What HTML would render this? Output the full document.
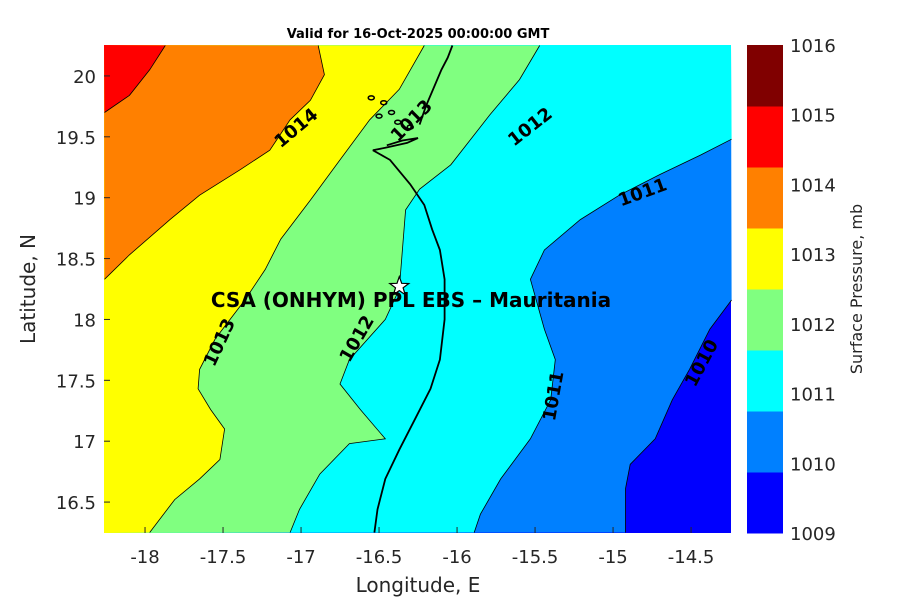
<!DOCTYPE html>
<html><head><meta charset="utf-8"><style>
body{margin:0;background:#fff;}
svg text{font-family:"DejaVu Sans","Liberation Sans",sans-serif;}
</style></head><body>
<svg id="c" width="900" height="600" viewBox="0 0 900 600"></svg>
<script>
const lonTicks=[-18,-17.5,-17,-16.5,-16,-15.5,-15,-14.5];
const latTicks=[16.5,17,17.5,18,18.5,19,19.5,20];
const cbLevels=[1009,1010,1011,1012,1013,1014,1015,1016];
const cbColors=["#0000ff","#0080ff","#00ffff","#80ff80","#ffff00","#ff8000","#ff0000","#800000"];
const line1015=[[-17.87,20.25],[-17.97,20.05],[-18.10,19.84],[-18.26,19.70]];
const line1014=[[-16.89,20.25],[-16.85,20.01],[-16.94,19.80],[-17.07,19.64],[-17.20,19.39],[-17.39,19.23],[-17.65,19.02],[-17.84,18.82],[-18.10,18.53],[-18.26,18.33]];
const line1013=[[-16.21,20.25],[-16.37,19.89],[-16.56,19.64],[-16.75,19.31],[-16.94,18.98],[-17.13,18.66],[-17.23,18.41],[-17.36,18.16],[-17.55,17.84],[-17.65,17.59],[-17.66,17.43],[-17.58,17.26],[-17.49,17.10],[-17.52,16.85],[-17.65,16.69],[-17.81,16.52],[-17.97,16.25]];
const line1012=[[-15.47,20.25],[-15.60,19.97],[-15.79,19.68],[-16.04,19.27],[-16.24,19.07],[-16.33,18.90],[-16.35,18.57],[-16.37,18.25],[-16.46,18.00],[-16.69,17.67],[-16.75,17.47],[-16.62,17.26],[-16.46,17.02],[-16.69,16.98],[-16.88,16.73],[-17.01,16.44],[-17.07,16.25]];
const line1011=[[-14.24,19.48],[-14.44,19.35],[-14.70,19.19],[-14.96,19.02],[-15.21,18.82],[-15.44,18.57],[-15.53,18.33],[-15.44,17.92],[-15.37,17.67],[-15.40,17.34],[-15.53,17.02],[-15.72,16.69],[-15.85,16.40],[-15.89,16.25]];
const line1010=[[-14.24,18.16],[-14.38,17.92],[-14.51,17.59],[-14.62,17.34],[-14.73,17.02],[-14.89,16.81],[-14.92,16.61],[-14.92,16.25]];
const coast=[[-16.54,19.39],[-16.43,19.31],[-16.30,19.11],[-16.21,18.94],[-16.16,18.74],[-16.11,18.57],[-16.08,18.33],[-16.08,18.00],[-16.11,17.67],[-16.17,17.43],[-16.27,17.18],[-16.37,16.93],[-16.46,16.69],[-16.51,16.44],[-16.53,16.25]];
const coastNorth=[[-16.54,19.39],[-16.46,19.41],[-16.32,19.45],[-16.25,19.49],[-16.35,19.47],[-16.45,19.43]];
const coastTop=[[-16.24,19.60],[-16.20,19.75],[-16.15,19.90],[-16.10,20.05],[-16.06,20.15],[-16.03,20.25]];
const station=[-16.37,18.27];
const clabels=[["1014",-17.03,19.57,-40],["1013",-17.52,17.81,-65],["1012",-16.64,17.84,-60],["1012",-15.53,19.58,-38],["1011",-14.81,19.04,-20],["1011",-15.38,17.37,-80],["1010",-14.43,17.64,-62],["1013",-16.29,19.63,-45]];
const X0=104,X1=731,Y0=45,Y1=533;
const LON0=-18.263,LON1=-14.244,LAT0=16.246,LAT1=20.254;
const sx=v=>X0+(v-LON0)/(LON1-LON0)*(X1-X0);
const sy=v=>Y1-(v-LAT0)/(LAT1-LAT0)*(Y1-Y0);
const svg=document.getElementById('c');
const NS="http://www.w3.org/2000/svg";
function mk(t,a,txt){const e=document.createElementNS(NS,t);for(const k in a)e.setAttribute(k,a[k]);if(txt!==undefined)e.textContent=txt;svg.appendChild(e);return e;}
function pts(arr){return arr.map(p=>sx(p[0]).toFixed(1)+","+sy(p[1]).toFixed(1)).join(" ");}
const TL=[LON0,LAT1],TR=[LON1,LAT1],BL=[LON0,LAT0];
let bg=mk('rect',{x:X0,y:Y0,width:X1-X0,height:Y1-Y0,fill:cbColors[0]});


const regions=[[line1010,[BL,TL,TR],cbColors[1],'region-1010-1011'],[line1011,[BL,TL,TR],cbColors[2],'region-1011-1012'],[line1012,[BL,TL],cbColors[3],'region-1012-1013'],[line1013,[BL,TL],cbColors[4],'region-1013-1014'],[line1014,[TL],cbColors[5],'region-1014-1015'],[line1015,[TL],cbColors[6],'region-1015-1016']];
regions.forEach(r=>{
  const p=mk('polygon',{points:pts(r[0].concat(r[1])),fill:r[2],stroke:'none'});
  
  
});
regions.forEach(r=>{
  const p=mk('polyline',{points:pts(r[0]),fill:'none',stroke:'#000','stroke-width':0.8});
  
  
});
let cl=mk('polyline',{points:pts(coast),fill:'none',stroke:'#000','stroke-width':1.8});


let cn=mk('polyline',{points:pts(coastNorth),fill:'none',stroke:'#000','stroke-width':1.8});


let ct=mk('polyline',{points:pts(coastTop),fill:'none',stroke:'#000','stroke-width':1.8});


[[-16.55,19.82],[-16.47,19.78],[-16.42,19.70],[-16.50,19.67],[-16.38,19.62],[-16.30,19.58]].forEach(p=>{
  const e=mk('ellipse',{cx:sx(p[0]),cy:sy(p[1]),rx:3,ry:2,fill:'none',stroke:'#000','stroke-width':1.5});
  
  
});
clabels.forEach(l=>{
  const x=sx(l[1]),y=sy(l[2]);
  const t=mk('text',{x:x,y:y,'font-size':18,'font-weight':'bold','text-anchor':'middle','dominant-baseline':'central',transform:`rotate(${l[3]} ${x} ${y})`},l[0]);
  
  
});
(function(){const cx=sx(station[0]),cy=sy(station[1]);let s="";for(let i=0;i<10;i++){const r=i%2?4:10,a=-Math.PI/2+i*Math.PI/5;s+=(cx+r*Math.cos(a)).toFixed(1)+","+(cy+r*Math.sin(a)).toFixed(1)+" ";}
const st=mk('polygon',{points:s,fill:'#fff',stroke:'#000','stroke-width':1.2});


const tt=mk('text',{x:411,y:307,'font-size':20,'font-weight':'bold','text-anchor':'middle'},'CSA (ONHYM) PPL EBS  – Mauritania');

})();
lonTicks.forEach(v=>{const x=sx(v);mk('line',{x1:x,y1:Y1,x2:x,y2:Y1-6,stroke:'#262626'});
 const t=mk('text',{x:x,y:Y1+30,'font-size':18,'text-anchor':'middle',fill:'#262626'},String(v));
 
 });
latTicks.forEach(v=>{const y=sy(v);mk('line',{x1:X0,y1:y,x2:X0+6,y2:y,stroke:'#262626'});
 const t=mk('text',{x:X0-8,y:y+7,'font-size':18,'text-anchor':'end',fill:'#262626'},String(v));
 
 });
let xt=mk('text',{x:418,y:592,'font-size':20,'text-anchor':'middle',fill:'#262626'},'Longitude, E');


let yt=mk('text',{x:35,y:289,'font-size':20,'text-anchor':'middle',fill:'#262626',transform:'rotate(-90 35 289)'},'Latitude, N');


let ti=mk('text',{x:418,y:38,'font-size':13,'font-weight':'bold','text-anchor':'middle'},'Valid for 16-Oct-2025 00:00:00 GMT');


const CX=747,CW=36,bh=(Y1-Y0)/cbColors.length;
cbColors.forEach((c,i)=>{const r=mk('rect',{x:CX,y:Y1-(i+1)*bh,width:CW,height:bh+0.5,fill:c});
 
 });
const lh=(Y1-Y0)/(cbLevels.length-1);
cbLevels.forEach((v,i)=>{const y=Y1-i*lh;
 const t=mk('text',{x:790,y:y+7,'font-size':18,fill:'#262626'},String(v));
 
 });
let cbt=mk('text',{x:862,y:289,'font-size':16,'text-anchor':'middle',fill:'#262626',transform:'rotate(-90 862 289)'},'Surface Pressure, mb');


</script>
</body></html>
